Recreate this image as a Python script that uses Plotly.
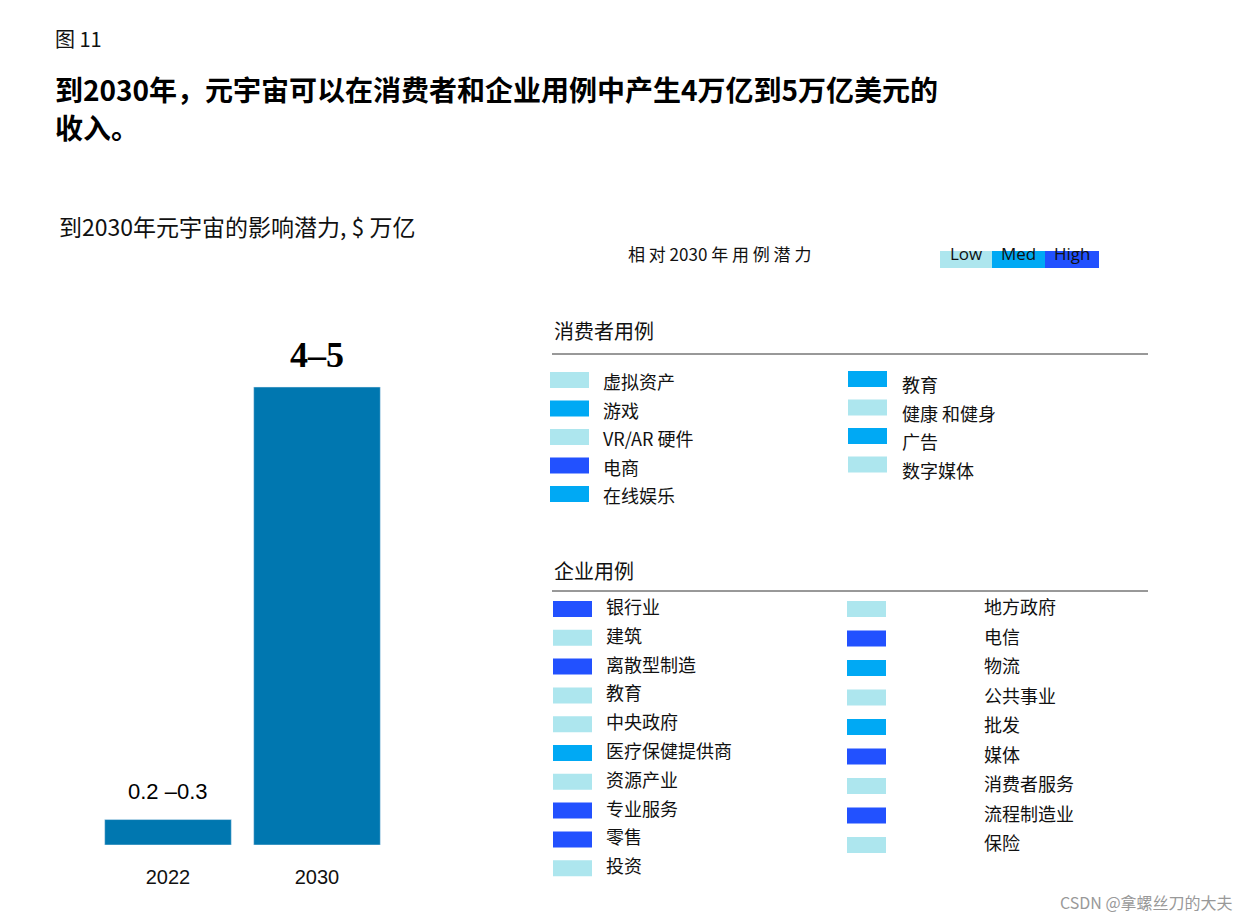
import plotly.graph_objects as go

W, H = 1249, 921
FONT = "Noto Sans CJK SC"

years = ["2022", "2030"]
impact_mid = [0.25, 4.5]
impact_text = ["0.2 –0.3", "4–5"]

level_colors = {"Low": "#ade6ee", "Med": "#00a9f4", "High": "#2251ff"}

consumer_left = ["虚拟资产", "游戏", "VR/AR 硬件", "电商", "在线娱乐"]
consumer_left_lvl = ["Low", "Med", "Low", "High", "Med"]
consumer_right = ["教育", "健康 和健身", "广告", "数字媒体"]
consumer_right_lvl = ["Med", "Low", "Med", "Low"]

biz_left = ["银行业", "建筑", "离散型制造", "教育", "中央政府", "医疗保健提供商",
            "资源产业", "专业服务", "零售", "投资"]
biz_left_lvl = ["High", "Low", "High", "Low", "Low", "Med", "Low", "High", "High", "Low"]
biz_right = ["地方政府", "电信", "物流", "公共事业", "批发", "媒体", "消费者服务",
             "流程制造业", "保险"]
biz_right_lvl = ["Low", "High", "Med", "Low", "Med", "High", "Low", "High", "Low"]

OFF = 8  # page body margin


def px(x):
    return (x - OFF) / W


def py(y):
    return 1 - (y - OFF) / H


fig = go.Figure()
fig.add_trace(go.Bar(x=years, y=impact_mid, marker_color="#0077b0", width=0.85,
                     text=impact_text, textposition="none", hoverinfo="skip"))
ymax = 4.5 * 505 / 458
fig.update_xaxes(type="category", domain=[px(93.5), px(391.5)], range=[-0.5, 1.5],
                 showgrid=False, showline=False, ticks="outside", ticklen=14,
                 tickcolor="rgba(0,0,0,0)",
                 tickfont=dict(size=20, color="#111", family="Liberation Sans"))
fig.update_yaxes(domain=[py(845), py(340)], range=[0, ymax], visible=False)

for i, (v, t) in enumerate(zip(impact_mid, impact_text)):
    big = v > 1
    fig.add_annotation(x=i, y=v, xref="x", yref="y", text=f"<b>{t}</b>" if big else t,
                       showarrow=False, yanchor="bottom", yshift=10 if big else 14,
                       font=dict(size=36 if big else 22, color="#000",
                                 family="Liberation Serif" if big else "Liberation Sans"))


def text(x, y, s, size, color="#111", anchor="left", family=FONT):
    fig.add_annotation(x=px(x), y=py(y), xref="paper", yref="paper", text=s, showarrow=False,
                       xanchor=anchor, yanchor="middle",
                       font=dict(size=size, color=color, family=family))


def rect(x0, y0, x1, y1, color):
    fig.add_shape(type="rect", xref="paper", yref="paper", x0=px(x0), x1=px(x1),
                  y0=py(y1), y1=py(y0), fillcolor=color, line_width=0)


def hline(y):
    fig.add_shape(type="line", xref="paper", yref="paper", x0=px(552), x1=px(1148),
                  y0=py(y), y1=py(y), line=dict(color="#333", width=1))


text(53, 38, "图 11", 20)
text(53, 89, "<b>到2030年，元宇宙可以在消费者和企业用例中产生4万亿到5万亿美元的</b>", 28, "#000")
text(53, 127, "<b>收入。</b>", 28, "#000")
text(57, 226, "到2030年元宇宙的影响潜力, $ 万亿", 23)
text(626, 253, "相 对 2030 年 用 例 潜 力", 17)

lx = [940, 992, 1045, 1099]
for i, k in enumerate(["Low", "Med", "High"]):
    rect(lx[i], 251, lx[i + 1], 268, level_colors[k])
    text((lx[i] + lx[i + 1]) / 2, 253, k, 17, anchor="center", family="Open Sans")

# consumer section
text(552, 331, "消费者用例", 20)
hline(354)
for i, (n, l) in enumerate(zip(consumer_left, consumer_left_lvl)):
    y = 380 + i * 28.5
    rect(550, y - 8, 589, y + 8, level_colors[l])
    text(601, y + 1, n, 18)
for i, (n, l) in enumerate(zip(consumer_right, consumer_right_lvl)):
    y = 379 + i * 28.5
    rect(848, y - 8, 887, y + 8, level_colors[l])
    text(900, y + 5, n, 18)

# enterprise section
text(552, 570, "企业用例", 20)
hline(591)
for i, (n, l) in enumerate(zip(biz_left, biz_left_lvl)):
    y = 609 + i * 28.8
    rect(553, y - 8, 592, y + 8, level_colors[l])
    text(604, y - 3, n, 18)
for i, (n, l) in enumerate(zip(biz_right, biz_right_lvl)):
    y = 609 + i * 29.5
    rect(847, y - 8, 886, y + 8, level_colors[l])
    text(982, y - 3, n, 18)

text(1235, 902, "CSDN @拿螺丝刀的大夫", 16, "#999", anchor="right")

fig.update_layout(width=W, height=H, margin=dict(l=0, r=0, t=0, b=0),
                  plot_bgcolor="white", paper_bgcolor="white", showlegend=False,
                  font=dict(family=FONT))
fig.write_html("out.html")
